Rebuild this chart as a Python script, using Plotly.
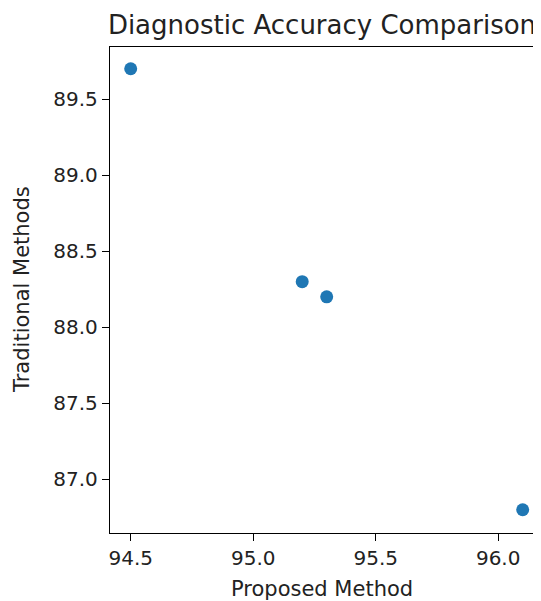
import plotly.graph_objects as go

proposed = [94.5, 95.2, 95.3, 96.1]
traditional = [89.7, 88.3, 88.2, 86.8]
x_ticks = [94.5, 95.0, 95.5, 96.0]
x_tick_labels = ["94.5", "95.0", "95.5", "96.0"]
y_ticks = [87.0, 87.5, 88.0, 88.5, 89.0, 89.5]
y_tick_labels = ["87.0", "87.5", "88.0", "88.5", "89.0", "89.5"]

W, H = 541, 601
OFF = 8  # page body margin offset
L, R, T, B = 102, 7, 39, 76

font = "DejaVu Sans"
txt = "#222222"

fig = go.Figure()
fig.add_trace(go.Scatter(
    x=proposed, y=traditional, mode="markers",
    marker=dict(color="#1f77b4", size=13, line=dict(width=0)),
    showlegend=False,
))

pw = W - L - R
ph = H - T - B

fig.update_layout(
    width=W, height=H,
    margin=dict(l=L, r=R, t=T, b=B),
    paper_bgcolor="white", plot_bgcolor="white",
    font=dict(family=font, color=txt),
    title=dict(text="Diagnostic Accuracy Comparison", x=(322 - OFF) / W, xref="container",
               xanchor="center", y=1 - (25 - OFF) / H, yref="container", yanchor="middle",
               font=dict(size=26, family=font, color=txt)),
    xaxis=dict(range=[94.4155, 96.1788], tickvals=x_ticks, ticktext=x_tick_labels,
               showgrid=False, zeroline=False, showline=True, linecolor="black", linewidth=1.3,
               mirror=True, ticks="outside", ticklen=7, tickwidth=1.3, tickcolor="black",
               tickfont=dict(size=20, family=font, color=txt)),
    yaxis=dict(range=[86.647, 89.843], tickvals=y_ticks, ticktext=y_tick_labels,
               showgrid=False, zeroline=False, showline=True, linecolor="black", linewidth=1.3,
               mirror=False, ticks="outside", ticklen=7, tickwidth=1.3, tickcolor="black",
               tickfont=dict(size=20, family=font, color=txt)),
)

fig.add_annotation(text="Proposed Method", xref="paper", yref="paper",
                   x=(322 - OFF - L) / pw, y=-((589 - OFF) - (H - B)) / ph,
                   xanchor="center", yanchor="middle", showarrow=False,
                   font=dict(size=21, family=font, color=txt))
fig.add_annotation(text="Traditional Methods", xref="paper", yref="paper",
                   x=-(L - (22 - OFF)) / pw, y=0.5, textangle=-90,
                   xanchor="center", yanchor="middle", showarrow=False,
                   font=dict(size=21, family=font, color=txt))

fig.write_html("out.html")
